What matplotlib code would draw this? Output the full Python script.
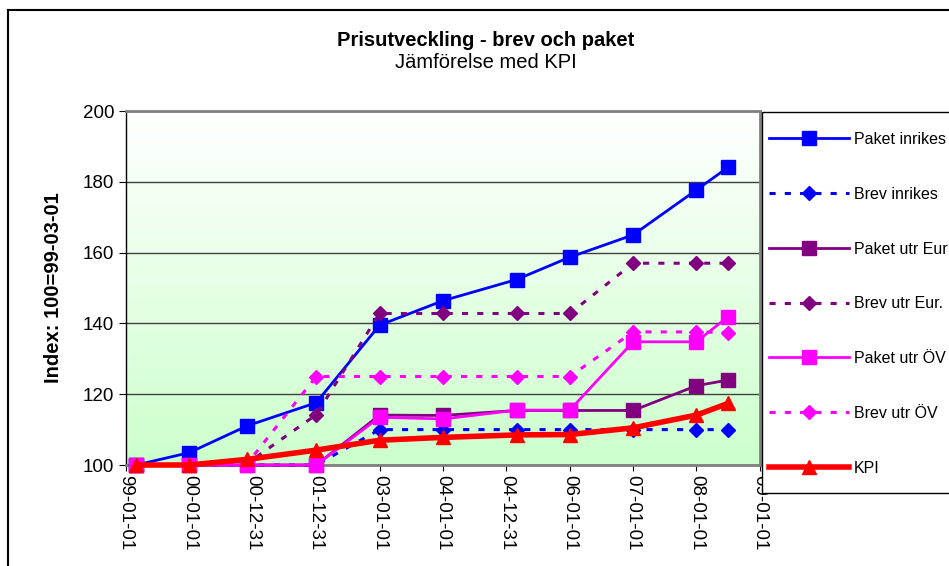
import numpy as np
import pandas as pd
import matplotlib
matplotlib.use("Agg")
import matplotlib.pyplot as plt
import matplotlib.dates as mdates
from matplotlib.lines import Line2D
from matplotlib.patches import Rectangle

plt.rcParams["font.family"] = ["Liberation Sans", "DejaVu Sans"]

# Dates of the observations
dates = pd.to_datetime([
    "1999-03-01", "2000-01-01", "2000-12-01", "2002-01-01", "2003-01-01",
    "2004-01-01", "2005-03-01", "2006-01-01", "2007-01-01", "2008-01-01",
    "2008-07-01",
])

paket_inrikes = [100, 103.5, 111.1, 117.6, 139.5, 146.4, 152.4, 158.7, 165.0, 177.7, 184.1]
brev_inrikes = [100, 100, 100, 100, 110, 110, 110, 110, 110, 110, 110]
paket_utr_eur = [100, 100, 100, 100, 114.1, 114.0, 115.4, 115.4, 115.4, 122.4, 124.0]
brev_utr_eur = [100, 100, 100.5, 114.2, 142.8, 142.8, 142.8, 142.8, 157.0, 157.0, 157.0]
paket_utr_ov = [100, 100, 100, 100, 113.5, 113.0, 115.5, 115.5, 134.8, 134.8, 141.9]
brev_utr_ov = [100, 100, 100.5, 125.0, 125.0, 125.0, 125.0, 125.0, 137.6, 137.6, 137.4]
kpi = [100, 100, 101.6, 104.2, 107.0, 107.8, 108.5, 108.6, 110.5, 114.1, 117.4]

tick_labels = ["99-01-01", "00-01-01", "00-12-31", "01-12-31", "03-01-01", "04-01-01",
               "04-12-31", "06-01-01", "07-01-01", "08-01-01", "09-01-01"]
tick_dates = pd.to_datetime(["19" + t if t.startswith("99") else "20" + t for t in tick_labels])

W, H = 949, 566
fig = plt.figure(figsize=(W / 100, H / 100), dpi=100)
ax = fig.add_axes([126 / W, 1 - 465 / H, (760 - 126) / W, (465 - 111) / H])

xmin, xmax = pd.Timestamp("1999-01-01"), pd.Timestamp("2009-01-01")

# gradient background: white at top, light green at bottom
grad = np.linspace(0, 1, 256).reshape(-1, 1)
top = np.array([1.0, 1.0, 1.0])
bot = np.array([204, 255, 204]) / 255
img = top + (bot - top) * grad[..., None]
ax.imshow(img, aspect="auto", origin="upper",
          extent=[mdates.date2num(xmin), mdates.date2num(xmax), 100, 200],
          zorder=0, interpolation="bilinear")
ax.set_xlim(xmin, xmax)
ax.set_ylim(100, 200)

ax.set_yticks([100, 120, 140, 160, 180, 200])
ax.yaxis.grid(True, color="#404040", linewidth=1)
ax.set_axisbelow(True)

series = [
    ("Paket inrikes", paket_inrikes, "#0000FF", "-", "s", 2, 9.5),
    ("Brev inrikes", brev_inrikes, "#0000FF", (0, (2, 3)), "D", 2.2, 7.5),
    ("Paket utr Eur", paket_utr_eur, "#800080", "-", "s", 2, 9.5),
    ("Brev utr Eur.", brev_utr_eur, "#800080", (0, (2, 3)), "D", 2.2, 7.5),
    ("Paket utr ÖV", paket_utr_ov, "#FF00FF", "-", "s", 2, 9.5),
    ("Brev utr ÖV", brev_utr_ov, "#FF00FF", (0, (2, 3)), "D", 2.2, 7.5),
    ("KPI", kpi, "#FF0000", "-", "^", 4, 9.5),
]
handles = []
for i, (name, vals, col, ls, mk, lw, ms) in enumerate(series):
    h, = ax.plot(dates, vals, color=col, linestyle=ls, linewidth=lw, marker=mk,
                 markersize=ms, markerfacecolor=col, markeredgecolor=col,
                 label=name, zorder=3 + i, clip_on=False)
    handles.append(h)

ax.set_xticks(tick_dates)
ax.set_xticklabels(tick_labels, rotation=-90, fontsize=13.5)
ax.tick_params(axis="y", labelsize=13.5, length=5, direction="out")
ax.tick_params(axis="x", length=4, direction="out")
ax.set_ylabel("Index: 100=99-03-01", fontsize=14.5, fontweight="bold", labelpad=14)

for side in ["top", "right", "bottom"]:
    ax.spines[side].set_color("#808080")
    ax.spines[side].set_linewidth(2)
ax.spines["left"].set_color("black")
ax.spines["left"].set_linewidth(1)

fig.text(486 / W, 1 - 46 / H, "Prisutveckling - brev och paket", ha="center", va="baseline",
         fontsize=14.5, fontweight="bold")
fig.text(486 / W, 1 - 68 / H, "Jämförelse med KPI", ha="center", va="baseline", fontsize=14.5)

# legend box (runs past the right edge like the original)
fig.add_artist(Rectangle((762 / W, 1 - 493 / H), 300 / W, (493 - 112) / H,
                         transform=fig.transFigure, facecolor="white",
                         edgecolor="black", linewidth=1, zorder=1))
leg = fig.legend(handles=handles, loc="upper left", bbox_to_anchor=(769 / W, 1 - 132 / H),
                 bbox_transform=fig.transFigure, frameon=False, fontsize=11.5,
                 handlelength=5.0, handletextpad=0.3, labelspacing=2.49,
                 borderpad=0, borderaxespad=0)
leg.set_zorder(2)

# outer chart border (extends past the right and bottom edge)
fig.add_artist(Line2D([8 / W, 8 / W], [0, 1 - 10 / H], color="black", linewidth=1.5))
fig.add_artist(Line2D([8 / W, 1], [1 - 10 / H, 1 - 10 / H], color="black", linewidth=1.5))

fig.savefig("out.png", dpi=100)
